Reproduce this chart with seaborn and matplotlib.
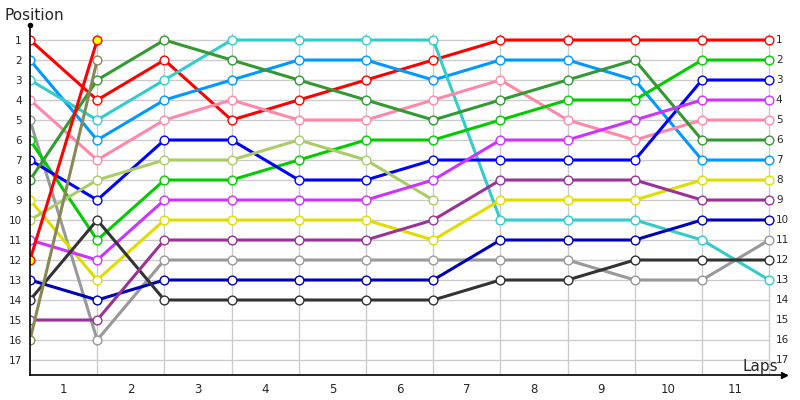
import pandas as pd
import seaborn as sns
import matplotlib.pyplot as plt

# lap index 0 = grid, 1..11 = laps; None = retired
laps = list(range(12))
drivers = ['red', 'lightblue', 'cyan', 'pink', 'gray', 'green', 'blue', 'darkgreen',
           'yellow', 'yellowgreen', 'magenta', 'red2', 'navy', 'black', 'purple', 'olive']
colors = ['#FF0000', '#0099FF', '#33CCCC', '#FF88AA', '#999999', '#00CC00', '#0000FF', '#339933',
          '#DDDD00', '#AACC66', '#CC33FF', '#FF0000', '#0000BB', '#333333', '#993399', '#888855']

red = [1, 4, 2, 5, 4, 3, 2, 1, 1, 1, 1, 1]
lightblue = [2, 6, 4, 3, 2, 2, 3, 2, 2, 3, 7, 7]
cyan = [3, 5, 3, 1, 1, 1, 1, 10, 10, 10, 11, 13]
pink = [4, 7, 5, 4, 5, 5, 4, 3, 5, 6, 5, 5]
gray = [5, 16, 12, 12, 12, 12, 12, 12, 12, 13, 13, 11]
green = [6, 11, 8, 8, 7, 6, 6, 5, 4, 4, 2, 2]
blue = [7, 9, 6, 6, 8, 8, 7, 7, 7, 7, 3, 3]
darkgreen = [8, 3, 1, 2, 3, 4, 5, 4, 3, 2, 6, 6]
yellow = [9, 13, 10, 10, 10, 10, 11, 9, 9, 9, 8, 8]
yellowgreen = [10, 8, 7, 7, 6, 7, 9, None, None, None, None, None]
magenta = [11, 12, 9, 9, 9, 9, 8, 6, 6, 5, 4, 4]
red2 = [12, 1, None, None, None, None, None, None, None, None, None, None]
navy = [13, 14, 13, 13, 13, 13, 13, 11, 11, 11, 10, 10]
black = [14, 10, 14, 14, 14, 14, 14, 13, 13, 12, 12, 12]
purple = [15, 15, 11, 11, 11, 11, 10, 8, 8, 8, 9, 9]
olive = [16, 2, None, None, None, None, None, None, None, None, None, None]

series = [red, lightblue, cyan, pink, gray, green, blue, darkgreen,
          yellow, yellowgreen, magenta, red2, navy, black, purple, olive]
positions = list(range(1, 18))
lap_labels = [str(i) for i in range(1, 12)]

rows = []
for name, vals in zip(drivers, series):
    for lap, pos in zip(laps, vals):
        if pos is not None:
            rows.append({'driver': name, 'lap': lap, 'position': pos})
df = pd.DataFrame(rows)

sns.set_style("white")
plt.rcParams['font.family'] = ['DejaVu Sans']

fig = plt.figure(figsize=(8, 4), dpi=100)
ax = fig.add_axes([30 / 800, 25 / 400, 756 / 800, 350 / 400])

# grid
ax.hlines(positions, 0, 11, color='#CCCCCC', lw=1, zorder=0)
ax.vlines(laps[1:], 17.75, 0.65, color='#CCCCCC', lw=1, zorder=0)

sns.lineplot(data=df, x='lap', y='position', hue='driver', hue_order=drivers,
             palette=dict(zip(drivers, colors)), marker='o', markersize=6.3,
             linewidth=2.2, legend=False, ax=ax, zorder=2)

for line, name, c in zip(ax.lines, drivers, colors):
    line.set_markeredgecolor(c)
    line.set_markeredgewidth(1.0)
    line.set_markerfacecolor('#FFFF00' if name == 'red2' else 'white')

ax.set_xlim(0, 11.25)
ax.set_ylim(17.75, 0.25)
for s in ['top', 'right']:
    ax.spines[s].set_visible(False)
ax.spines['left'].set_color('black')
ax.spines['bottom'].set_color('black')
ax.spines['left'].set_linewidth(1.2)
ax.spines['bottom'].set_linewidth(1.2)

ax.set_yticks(positions)
ax.set_yticklabels([str(p) for p in positions], fontsize=7.5)
ax.set_xticks([i - 0.5 for i in range(1, 12)])
ax.set_xticklabels(lap_labels, fontsize=8.5)
ax.tick_params(length=0, pad=6)
ax.set_xlabel('')
ax.set_ylabel('')

for p in positions:
    ax.text(11.1, p, str(p), fontsize=7.5, va='center', ha='left')

# axis decorations
ax.plot([0], [0.25], 'o', color='black', ms=3, clip_on=False, zorder=5)
ax.plot([11.22], [17.75], '>', color='black', ms=5, clip_on=False, zorder=5)
fig.text(4 / 800, 1 - 16 / 400, 'Position', fontsize=11, va='center', ha='left')
ax.text(10.6, 17.3, 'Laps', fontsize=11, va='center', ha='left')

fig.savefig('out.png', dpi=100, facecolor='white')
